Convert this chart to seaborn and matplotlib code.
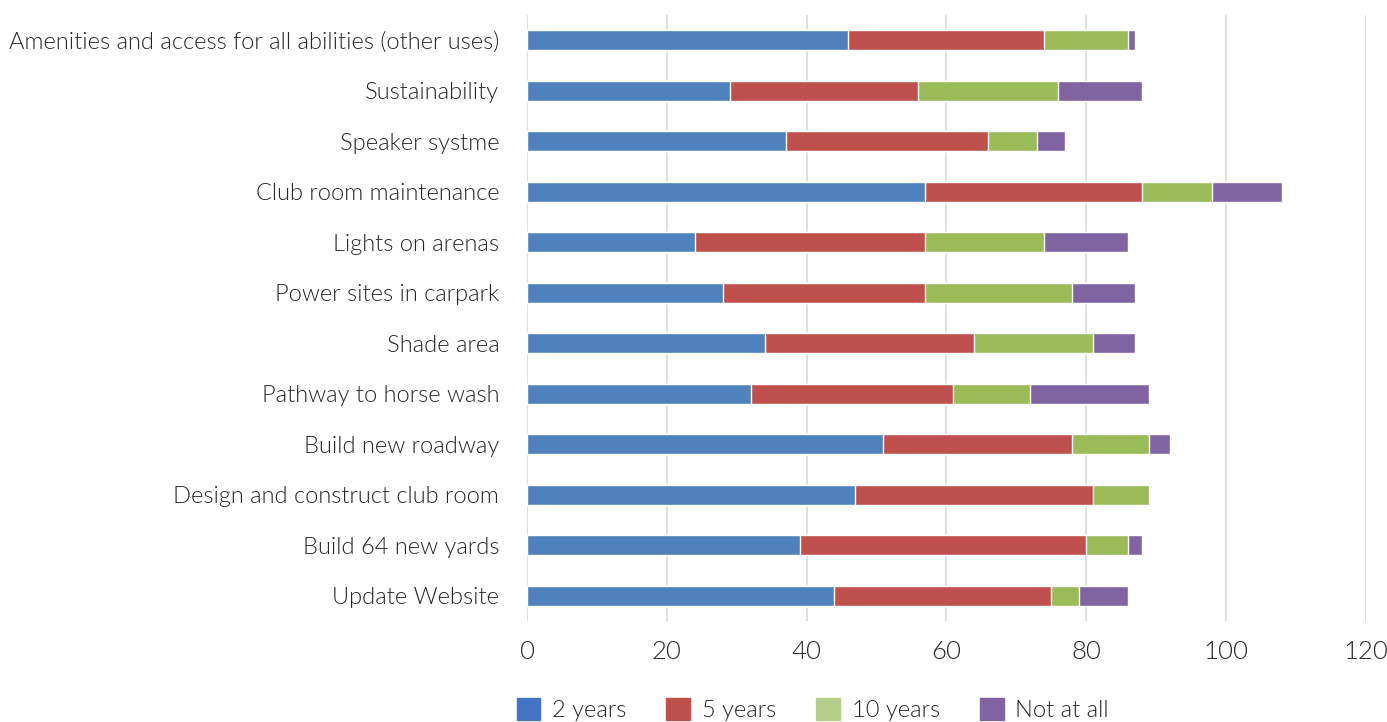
import matplotlib.pyplot as plt
import matplotlib.patches as mpatches
import pandas as pd
import seaborn as sns

# Dados (de cima para baixo)
categorias = [
    "Amenities and access for all abilities (other uses)",
    "Sustainability",
    "Speaker systme",
    "Club room maintenance",
    "Lights on arenas",
    "Power sites in carpark",
    "Shade area",
    "Pathway to horse wash",
    "Build new roadway",
    "Design and construct club room",
    "Build 64 new yards",
    "Update Website",
]
dois_anos = [46, 29, 37, 57, 24, 28, 34, 32, 51, 47, 39, 44]
cinco_anos = [28, 27, 29, 31, 33, 29, 30, 29, 27, 34, 41, 31]
dez_anos = [12, 20, 7, 10, 17, 21, 17, 11, 11, 8, 6, 4]
nunca = [1, 12, 4, 10, 12, 9, 6, 17, 3, 0, 2, 7]

series = ["2 years", "5 years", "10 years", "Not at all"]
cores_barras = ["#4F81BD", "#C0504D", "#9BBB59", "#8064A2"]
cores_legenda = ["#4472C4", "#C0504D", "#B5CF8A", "#8064A2"]
cor_texto = '#262626'

df = pd.DataFrame({
    "categoria": categorias,
    "2 years": dois_anos,
    "5 years": cinco_anos,
    "10 years": dez_anos,
    "Not at all": nunca,
})
acumulado = df[series].cumsum(axis=1)
acumulado["categoria"] = df["categoria"]

sns.set_style("white")
plt.rcParams['font.family'] = ['Lato', 'DejaVu Sans']

fig = plt.figure(figsize=(13.87, 7.22), dpi=100)
ax = fig.add_axes([0.38, 0.14, 0.6045, 0.839])

# Barras empilhadas: desenha os totais acumulados do maior para o menor
for serie, cor in reversed(list(zip(series, cores_barras))):
    sns.barplot(data=acumulado, x=serie, y="categoria", order=categorias,
                color=cor, width=0.4, saturation=1, ax=ax, zorder=2)

ax.set_xlim(0, 120)
ax.set_xticks(range(0, 121, 20))
ax.grid(axis='x', color='#D9D9D9', linewidth=1.2, zorder=0)
ax.set_axisbelow(True)
sns.despine(ax=ax, left=True, bottom=True)
ax.set_xlabel("")
ax.set_ylabel("")
ax.tick_params(axis='y', length=0, pad=20, labelsize=17, labelcolor=cor_texto)
ax.tick_params(axis='x', length=0, pad=14, labelsize=18.5, labelcolor=cor_texto)
for t in ax.get_yticklabels() + ax.get_xticklabels():
    t.set_fontweight(300)

handles = [mpatches.Patch(color=c, label=s) for s, c in zip(series, cores_legenda)]
leg = fig.legend(handles=handles, loc='center', bbox_to_anchor=(0.586, 0.017),
                 ncol=4, frameon=False, fontsize=17, handlelength=1.0,
                 handleheight=1.0, columnspacing=1.7, handletextpad=0.5)
for t in leg.get_texts():
    t.set_color(cor_texto)
    t.set_fontweight(300)

fig.savefig("out.png", dpi=100)
plt.close()
